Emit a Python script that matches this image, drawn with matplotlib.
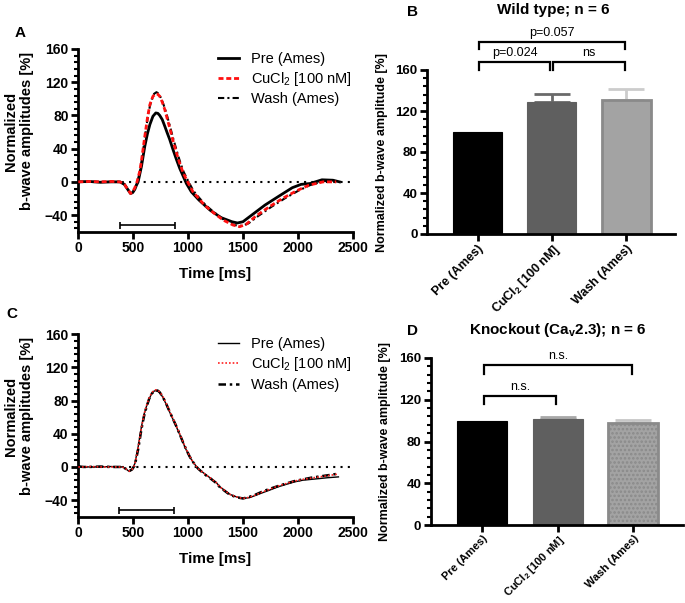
import numpy as np
import matplotlib
matplotlib.use("Agg")
import matplotlib.pyplot as plt
from matplotlib.ticker import AutoMinorLocator, MultipleLocator

plt.rcParams["font.family"] = ["Liberation Sans", "DejaVu Sans"]
plt.rcParams["mathtext.fontset"] = "custom"
plt.rcParams["mathtext.rm"] = "Liberation Sans"
plt.rcParams["mathtext.it"] = "Liberation Sans:italic"
plt.rcParams["mathtext.bf"] = "Liberation Sans:bold"
plt.rcParams["hatch.color"] = "#858585"
plt.rcParams["hatch.linewidth"] = 1.2

# --- Panel A traces (wild type), time [ms] / normalized amplitude [%] ---
A_PRE_T = [0, 100, 200, 300, 380, 420, 450, 476, 495, 515, 530, 545, 576, 606, 630, 652, 680,
           706, 725, 742, 765, 788, 810, 833, 860, 894, 925, 955, 985, 1030, 1100, 1200, 1300,
           1400, 1450, 1500, 1590, 1700, 1830, 1950, 2030, 2110, 2220, 2320, 2380]
A_PRE_V = [0, 0.5, -0.5, 0, 0, -3, -9, -14, -13, -9, -4, 0, 19, 43, 58, 69, 79,
           83, 82.5, 80, 75, 67, 59, 51, 40, 27, 16, 7, -2, -12, -22, -34, -43,
           -48, -49.5, -48, -39, -28, -17, -7, -3, -2, 2.5, 2, 0]

A_CU_T = [0, 100, 200, 300, 380, 420, 450, 476, 495, 515, 535, 560, 576, 606, 630, 652, 680,
          706, 725, 742, 765, 788, 810, 833, 860, 894, 925, 955, 1000, 1045, 1091, 1150, 1230,
          1320, 1410, 1470, 1530, 1620, 1740, 1860, 1985, 2100, 2230, 2350]
A_CU_V = [0, 0.5, 0, 0.5, 0, -3, -9, -14, -12, -7, 0, 13, 26, 55, 77, 93, 103,
          106, 105.5, 103, 96, 87, 76, 65, 51, 35, 22, 11, -1, -12, -19, -28, -37,
          -46, -52, -54, -51, -41, -30, -20, -11, -4, 0, 0]

A_WASH_T = [0, 100, 200, 300, 380, 420, 450, 480, 500, 520, 540, 565, 590, 615, 640, 665, 690,
            712, 735, 760, 785, 810, 835, 865, 900, 930, 960, 1005, 1050, 1100, 1160, 1240,
            1330, 1420, 1490, 1550, 1640, 1760, 1880, 2000, 2110, 2240, 2350]
A_WASH_V = [0, 0, 0, 0, 0, -3, -9, -14, -12, -6, 0, 15, 37, 62, 84, 98, 106,
            108, 106, 99, 90, 79, 67, 52, 36, 23, 12, 0, -11, -19, -28, -37,
            -46, -52, -53, -50, -41, -30, -20, -11, -4, 1, 1]

# --- Panel C traces (knockout) ---
C_PRE_T = [0, 50, 100, 200, 300, 400, 430, 464, 490, 515, 545, 576, 600, 621, 645, 667, 690,
           706, 725, 742, 770, 803, 833, 864, 895, 924, 955, 985, 1015, 1045, 1091, 1130,
           1167, 1200, 1258, 1290, 1340, 1380, 1440, 1500, 1560, 1621, 1680, 1742, 1820,
           1894, 1970, 2045, 2120, 2197, 2270, 2370]
C_PRE_V = [1, 0, 0, 0, 0.5, 0, -2, -5.5, -3, 4, 24, 49, 64, 73, 82, 88, 91.5,
           92, 91.5, 90, 84, 75, 66, 57, 48, 39, 29, 20, 12, 6, -2, -6,
           -10, -13, -19, -24, -29, -33, -36, -38, -37, -34, -31, -28, -24,
           -21, -18, -16, -15, -14, -13, -12]
C_CU_T = [0, 50, 100, 200, 300, 400, 430, 464, 490, 515, 545, 576, 600, 621, 645, 667, 690,
          706, 725, 742, 770, 803, 833, 864, 895, 924, 955, 985, 1015, 1045, 1091, 1130,
          1167, 1200, 1258, 1290, 1340, 1380, 1440, 1500, 1560, 1621, 1680, 1742, 1820,
          1894, 1970, 2045, 2120, 2197, 2300, 2370]
C_CU_V = [0, 0, 0.5, 0, 0, 0, -2, -5, -3, 3, 23, 48, 64, 74, 83, 89, 92.5,
          93, 92.5, 90.5, 85, 76, 67, 58, 49, 40, 30, 21, 13, 6, -2, -6,
          -10, -13, -19, -24, -29, -33, -36, -38, -36.5, -33.5, -30, -27, -23,
          -20, -17, -15, -13.5, -12, -10, -8.5]
C_WASH_T = [0, 50, 100, 200, 300, 400, 430, 464, 490, 515, 545, 576, 600, 621, 645, 667, 690,
            706, 725, 742, 770, 803, 833, 864, 895, 924, 955, 985, 1015, 1045, 1091, 1130,
            1167, 1200, 1258, 1290, 1340, 1380, 1440, 1500, 1560, 1621, 1680, 1742, 1820,
            1894, 1970, 2045, 2120, 2197, 2300, 2370]
C_WASH_V = [0.5, 0, 0, 0.5, 0, 0, -2, -5, -3, 2, 21, 46, 62, 72, 82, 88, 91.5,
            92.5, 92, 90, 84.5, 75.5, 66.5, 57.5, 48.5, 39.5, 29.5, 20.5, 12.5, 6, -2, -6.5,
            -10.5, -13.5, -19.5, -24.5, -29.5, -33.5, -36.5, -38, -36, -33, -29.5, -26.5, -23,
            -20, -17, -15, -13, -11.5, -9.5, -8]

STIM_A = [380, 880]
STIM_C = [370, 873]

# --- Bar panels ---
GROUPS = ["Pre (Ames)", r"CuCl$_\mathbf{2}$ [100 nM]", "Wash (Ames)"]
B_MEAN = [100, 128.5, 130.5]
B_ERR = [0, 8.5, 11]
D_MEAN = [100, 101.2, 98.2]
D_ERR = [0, 2.2, 2.8]

LEGEND = ["Pre (Ames)", r"CuCl$_2$ [100 nM]", "Wash (Ames)"]

# comparisons: (i, j, bracket height, tick bottom, label)
B_COMP = [(0, 1, 167.5, 160, "p=0.024"), (1, 2, 167.5, 160, "ns"), (0, 2, 187, 180, "p=0.057")]
D_COMP = [(0, 1, 123.6, 116, "n.s."), (0, 2, 153, 145, "n.s.")]

BAR_FACE = ["black", "#5f5f5f", "#a3a3a3"]
BAR_EDGE = ["black", "#5f5f5f", "#8a8a8a"]
ERR_COLOR_B = ["black", "#6a6a6a", "#cccccc"]
ERR_COLOR_D = ["black", "#a8a8a8", "#c6c6c6"]

W, H = 685, 603
fig = plt.figure(figsize=(W / 100, H / 100), dpi=100)


def axes_px(left, top, right, bottom):
    return fig.add_axes([left / W, 1 - bottom / H, (right - left) / W, (bottom - top) / H])


def style_axes(ax, tick_size):
    for s in ["top", "right"]:
        ax.spines[s].set_visible(False)
    for s in ["left", "bottom"]:
        ax.spines[s].set_linewidth(2)
    ax.tick_params(which="major", length=5, width=2, labelsize=tick_size, pad=2)
    ax.tick_params(which="minor", length=3, width=1.5)
    for lab in ax.get_yticklabels() + ax.get_xticklabels():
        lab.set_fontweight("bold")


def trace_panel(ax, pre, cu, wash, stim, styles):
    ax.axhline(0, color="black", ls=(0, (1, 2.5)), lw=1.5, zorder=1)
    handles = []
    for (t, v), st in zip([pre, cu, wash], styles):
        handles += ax.plot(t, v, **st)
    ax.set_xlim(0, 2500)
    ax.set_ylim(-60, 160)
    ax.xaxis.set_major_locator(MultipleLocator(500))
    ax.yaxis.set_major_locator(MultipleLocator(40))
    ax.yaxis.set_minor_locator(AutoMinorLocator(5))
    # stimulus bar
    ybar = -52.5
    ax.plot(stim, [ybar, ybar], color="black", lw=1.2, solid_capstyle="butt")
    ax.vlines(stim, ybar - 4.5, ybar + 4.5, color="black", lw=1.2)
    ax.set_xlabel("Time [ms]", fontsize=11, fontweight="bold", labelpad=8)
    ax.set_ylabel("Normalized\nb-wave amplitudes [%]", fontsize=10.5, fontweight="bold",
                  linespacing=1.25)
    ax.yaxis.set_label_coords(-0.16, 0.55)
    style_axes(ax, 10)
    ax.legend(handles, LEGEND, loc="upper left", bbox_to_anchor=(0.51, 0.985), frameon=False,
              fontsize=10.5, handlelength=1.4, handletextpad=0.85, labelspacing=0.3,
              borderaxespad=0, borderpad=0)


axA = axes_px(78.3, 49, 352.7, 231.7)
trace_panel(axA, (A_PRE_T, A_PRE_V), (A_CU_T, A_CU_V), (A_WASH_T, A_WASH_V), STIM_A,
            [dict(color="black", lw=2.0, zorder=3),
             dict(color="#ff1010", lw=2.0, ls=(0, (1.8, 1.0)), zorder=4),
             dict(color="black", lw=1.5, ls=(0, (3, 1.5, 1, 1.5)), zorder=3)])

axC = axes_px(78.3, 334.3, 352.7, 516.7)
trace_panel(axC, (C_PRE_T, C_PRE_V), (C_CU_T, C_CU_V), (C_WASH_T, C_WASH_V), STIM_C,
            [dict(color="black", lw=1.0, zorder=3),
             dict(color="#ff2020", lw=1.2, ls=(0, (1, 1.2)), zorder=4),
             dict(color="black", lw=1.8, ls=(0, (3, 1.5, 1, 1.5)), zorder=3)])


def bar_panel(ax, means, errs, err_colors, comps, dotted, xlab_size):
    x = np.arange(len(means))
    for i in range(len(means)):
        lw = 2.0 if i == 2 else 0.8
        ax.bar(x[i], means[i], width=0.66, color=BAR_FACE[i], edgecolor=BAR_EDGE[i],
               linewidth=lw, hatch=("...." if (dotted and i == 2) else None), zorder=2)
        if errs[i] > 0:
            ax.errorbar(x[i], means[i], yerr=[[0], [errs[i]]], color=err_colors[i],
                        lw=2, capsize=13, capthick=2, zorder=1)
    ax.set_xlim(-0.68, 2.66)
    ax.set_ylim(0, 160)
    ax.set_xticks(x)
    ax.set_xticklabels(GROUPS, rotation=45, ha="right", rotation_mode="anchor",
                       fontweight="bold")
    ax.yaxis.set_major_locator(MultipleLocator(40))
    ax.yaxis.set_minor_locator(AutoMinorLocator(5))
    ax.set_ylabel("Normalized b-wave amplitude [%]", fontsize=9, fontweight="bold")
    ax.yaxis.set_label_coords(-0.158, 0.5)
    style_axes(ax, 9.5)
    ax.tick_params(axis="x", pad=1)
    for lab in ax.get_xticklabels():
        lab.set_fontsize(xlab_size)
    for i, j, h, low, lab in comps:
        ax.plot([x[i] + 0.02, x[i] + 0.02, x[j] - 0.02, x[j] - 0.02], [low, h, h, low],
                color="black", lw=1.6, clip_on=False, solid_joinstyle="miter")
        ax.text((x[i] + x[j]) / 2, h + 3, lab, ha="center", va="bottom", fontsize=9)


axB = axes_px(427.3, 70, 675, 234)
bar_panel(axB, B_MEAN, B_ERR, ERR_COLOR_B, B_COMP, False, 9)

axD = axes_px(431, 358, 683, 525)
bar_panel(axD, D_MEAN, D_ERR, ERR_COLOR_D, D_COMP, True, 8)

fig.text(553 / W, 1 - 10 / H, "Wild type; n = 6", fontsize=11, fontweight="bold",
         ha="center", va="center")
fig.text(558 / W, 1 - 330 / H, r"Knockout (Ca$_\mathbf{v}$2.3); n = 6", fontsize=11,
         fontweight="bold", ha="center", va="center")

# panel letters
for lab, px, py in [("A", 20, 33), ("B", 413, 12), ("C", 12, 314), ("D", 413, 331)]:
    fig.text(px / W, 1 - py / H, lab, fontsize=11, fontweight="bold", ha="center", va="center")

fig.savefig("out.png", dpi=100)
